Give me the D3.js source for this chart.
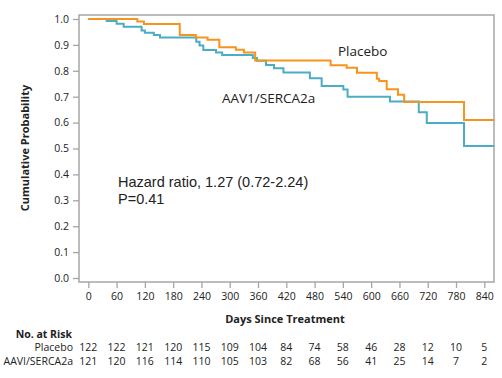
<!DOCTYPE html>
<html><head><meta charset="utf-8">
<script src="https://cdn.jsdelivr.net/npm/d3@7"></script>
<style>body{margin:0;background:#fff;}svg{display:block;font-family:"Open Sans",sans-serif;}</style>
</head><body><svg id="c" width="502" height="378"></svg>
<script>
const placeboDays = [0,104,118,194,228,253,278,313,330,354,514,548,570,612,617,633,657,670,797,861];
const placeboSurv = [1.0,0.990,0.981,0.938,0.929,0.920,0.891,0.881,0.871,0.840,0.821,0.812,0.792,0.769,0.761,0.729,0.708,0.680,0.610,0.610];
const aavDays = [0,39,60,75,113,120,139,152,229,236,244,271,284,349,358,377,394,414,470,495,541,550,640,701,718,797,861];
const aavSurv = [1.0,0.992,0.982,0.970,0.956,0.947,0.938,0.929,0.912,0.898,0.880,0.871,0.861,0.849,0.839,0.822,0.810,0.793,0.771,0.741,0.728,0.700,0.681,0.640,0.598,0.510,0.510];
const xTicks = [0,60,120,180,240,300,360,420,480,540,600,660,720,780,840];
const yTicks = [0,0.1,0.2,0.3,0.4,0.5,0.6,0.7,0.8,0.9,1.0];
const riskPlacebo = [122,122,121,120,115,109,104,84,74,58,46,28,12,10,5];
const riskAav = [121,120,116,114,110,105,103,82,68,56,41,25,14,7,2];
const seriesNames = ["Placebo","AAV1/SERCA2a"];
const riskNames = ["Placebo","AAVI/SERCA2a"];

const svg = d3.select("#c");
const x = d3.scaleLinear().domain([0,840]).range([88.3,484.3]);
const y = d3.scaleLinear().domain([0,1]).range([278,19]);
const frame = {l:79,t:15,r:494,b:282};
const gray = "#a6a6a6", txt = "#222";

svg.append("rect").attr("x",frame.l).attr("y",frame.t).attr("width",frame.r-frame.l).attr("height",frame.b-frame.t)
  .attr("fill","none").attr("stroke",gray).attr("stroke-width",1.5);

const yAxis = d3.axisLeft(y).tickValues(yTicks).tickFormat(d3.format(".1f")).tickSize(6).tickPadding(4);
const gy = svg.append("g").attr("transform",`translate(${frame.l},0)`).call(yAxis);
gy.select(".domain").remove();
gy.selectAll("line").attr("stroke",gray).attr("stroke-width",1.3);
gy.selectAll("text").attr("fill",txt).style("font-size","10.5px").style("font-family","Open Sans");

const xAxis = d3.axisBottom(x).tickValues(xTicks).tickSize(6).tickPadding(5);
const gx = svg.append("g").attr("transform",`translate(0,${frame.b})`).call(xAxis);
gx.select(".domain").remove();
gx.selectAll("line").attr("stroke",gray).attr("stroke-width",1.3);
gx.selectAll("text").attr("fill",txt).style("font-size","10.5px").style("font-family","Open Sans");

const line = d3.line().curve(d3.curveStepAfter).x(d=>x(d[0])).y(d=>y(d[1]));
const series = [
  {pts: d3.zip(placeboDays, placeboSurv), color:"#F7941D"},
  {pts: d3.zip(aavDays, aavSurv), color:"#4BACC6"}
];
[series[1], series[0]].forEach(s=>{
  svg.append("path").attr("d",line(s.pts)).attr("fill","none").attr("stroke",s.color).attr("stroke-width",2);
});

svg.append("text").attr("x",338).attr("y",55.5).text(seriesNames[0]).attr("fill",txt).style("font-size","13.5px");
svg.append("text").attr("x",222).attr("y",102.5).text(seriesNames[1]).attr("fill",txt).style("font-size","13.5px");
svg.append("text").attr("x",118).attr("y",186.5).text("Hazard ratio, 1.27 (0.72-2.24)").attr("fill",txt)
  .style("font-size","14.5px").style("font-family","Liberation Sans");
svg.append("text").attr("x",118).attr("y",203.5).text("P=0.41").attr("fill",txt)
  .style("font-size","14.5px").style("font-family","Liberation Sans");

svg.append("text").attr("transform","translate(29,148) rotate(-90)").attr("text-anchor","middle")
  .text("Cumulative Probability").attr("fill",txt).style("font-size","11px").style("font-weight","bold");
svg.append("text").attr("x",285).attr("y",323).attr("text-anchor","middle")
  .text("Days Since Treatment").attr("fill",txt).style("font-size","11px").style("font-weight","bold");

svg.append("text").attr("x",72).attr("y",338).attr("text-anchor","end").text("No. at Risk")
  .attr("fill",txt).style("font-size","10.5px").style("font-weight","bold");
[[riskPlacebo,351],[riskAav,365]].forEach(([arr,yy],i)=>{
  svg.append("text").attr("x",73).attr("y",yy).attr("text-anchor","end").text(riskNames[i]).attr("fill",txt).style("font-size","10.5px");
  svg.selectAll(null).data(arr).enter().append("text")
    .attr("x",(d,j)=>x(xTicks[j])).attr("y",yy).attr("text-anchor","middle").text(d=>d)
    .attr("fill",txt).style("font-size","10.5px");
});
</script></body></html>
